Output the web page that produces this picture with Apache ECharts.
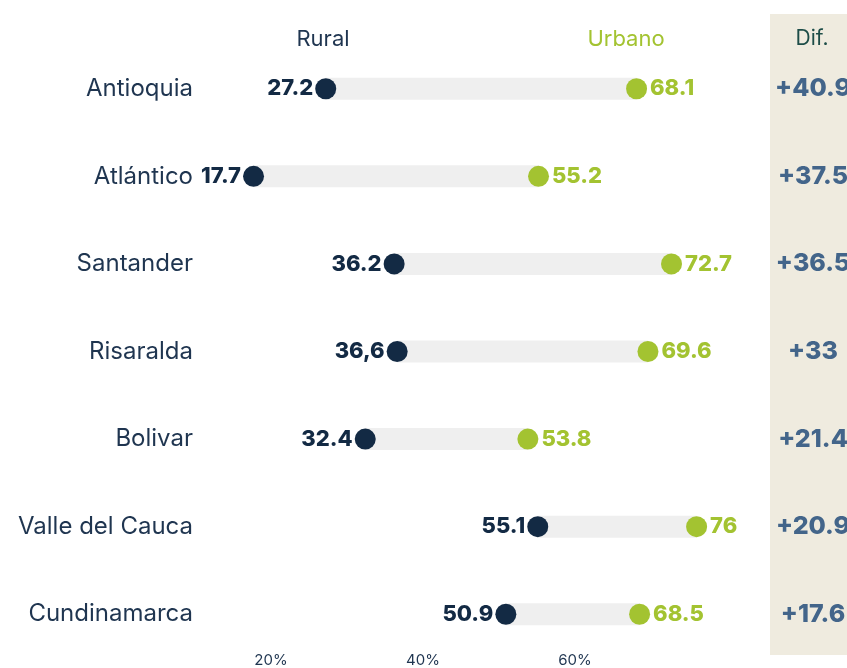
<!DOCTYPE html>
<html><head><meta charset="utf-8">
<script src="https://cdn.jsdelivr.net/npm/echarts@6/dist/echarts.min.js"></script>
<style>html,body{margin:0;padding:0;background:#fff}#c{width:847px;height:668px}</style>
</head><body><div id="c"></div>
<script>
const categories = ['Antioquia','Atlántico','Santander','Risaralda','Bolivar','Valle del Cauca','Cundinamarca'];
const ruralValues = [27.2, 17.7, 36.2, 36.6, 32.4, 55.1, 50.9];
const ruralLabels = ['27.2','17.7','36.2','36,6','32.4','55.1','50.9'];
const urbanValues = [68.1, 55.2, 72.7, 69.6, 53.8, 76, 68.5];
const urbanLabels = ['68.1','55.2','72.7','69.6','53.8','76','68.5'];
const difLabels = ['+40.9','+37.5','+36.5','+33','+21.4','+20.9','+17.6'];
const tickLabels = {20:'20%',40:'40%',60:'60%'};

const FONT = 'Inter';
const NAVY = '#132a44';
const GREEN = '#a3c331';
const chart = echarts.init(document.getElementById('c'));
chart.setOption({
  animation: false,
  textStyle: {fontFamily: FONT},
  graphic: [
    {type:'rect', z:-10, shape:{x:770,y:14,width:80,height:641}, style:{fill:'#efebdf'}},
    {type:'text', z:10, style:{x:323,y:39,text:'Rural',fill:'#1f3550',font:'22px Inter',align:'center',verticalAlign:'middle'}},
    {type:'text', z:10, style:{x:626,y:39,text:'Urbano',fill:GREEN,font:'22px Inter',align:'center',verticalAlign:'middle'}},
    {type:'text', z:10, style:{x:812,y:39,text:'Dif.',fill:'#1d4d48',font:'21px Inter',align:'center',verticalAlign:'middle'}}
  ],
  grid: {left:195, right:120, top:45, bottom:10, containLabel:false, outerBoundsMode:'none'},
  xAxis: {
    type:'value', min:10, max:80, interval:10,
    splitLine:{show:false}, axisLine:{show:false}, axisTick:{show:false},
    axisLabel:{margin:-5, color:'#1f3550', fontSize:15, fontFamily:FONT,
      formatter: v => tickLabels[v] || ''}
  },
  yAxis: [{
    type:'category', data:categories, inverse:true,
    axisLine:{show:false}, axisTick:{show:false}, splitLine:{show:false},
    axisLabel:{margin:2, color:'#1f3550', fontSize:24, fontFamily:FONT}
  },{
    type:'category', data:difLabels, inverse:true, position:'right',
    axisLine:{show:false}, axisTick:{show:false}, splitLine:{show:false},
    axisLabel:{margin:86, align:'center', color:'#43658a', fontSize:25, fontWeight:800, fontFamily:FONT}
  }],
  series: [
    {
      type:'custom', z:1,
      data: categories.map((c,i)=>[i, ruralValues[i], urbanValues[i]]),
      renderItem: (params, api) => {
        const a = api.coord([api.value(1), api.value(0)]);
        const b = api.coord([api.value(2), api.value(0)]);
        const h = 22;
        return {type:'rect', shape:{x:a[0], y:a[1]-h/2, width:b[0]-a[0], height:h}, style:{fill:'#efefef'}};
      },
      encode:{x:[1,2], y:0}
    },
    {
      type:'scatter', z:3, symbolSize:21,
      data: ruralValues.map((v,i)=>[v, categories[i]]),
      itemStyle:{color:NAVY, opacity:1},
      label:{show:true, position:'left', distance:2, color:NAVY, fontSize:22, fontWeight:800, fontFamily:FONT,
        formatter: p => ruralLabels[p.dataIndex]}
    },
    {
      type:'scatter', z:3, symbolSize:21,
      data: urbanValues.map((v,i)=>[v, categories[i]]),
      itemStyle:{color:GREEN, opacity:1},
      label:{show:true, position:'right', distance:3, color:GREEN, fontSize:22, fontWeight:800, fontFamily:FONT,
        formatter: p => urbanLabels[p.dataIndex]}
    }
  ]
});
</script></body></html>
